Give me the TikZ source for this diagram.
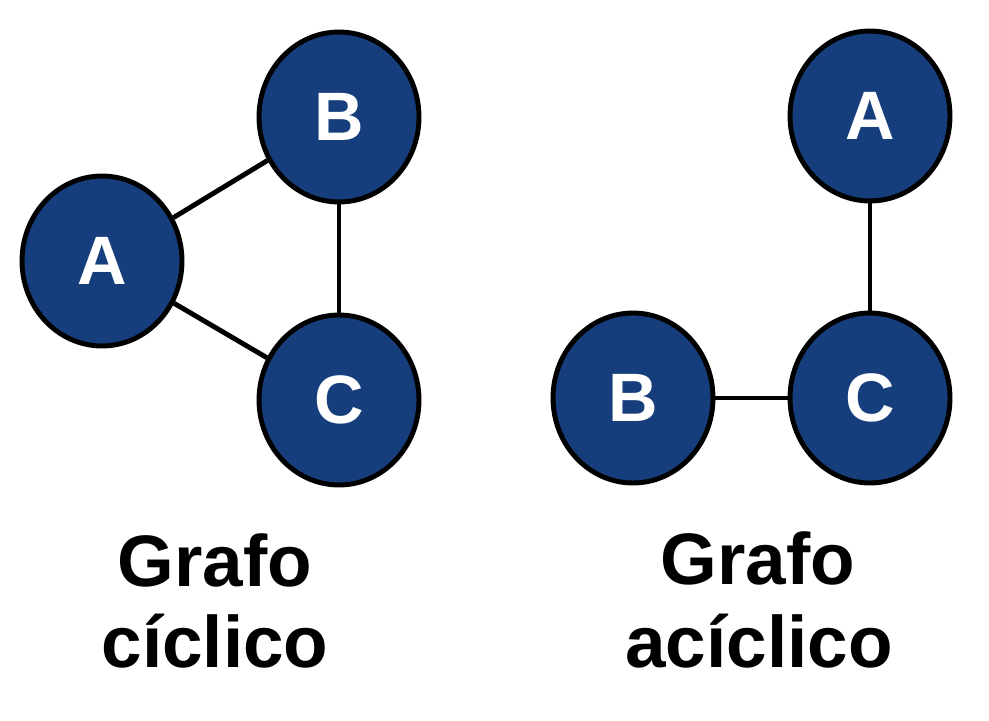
\documentclass[tikz,border=0pt]{standalone}
\usepackage{fontspec}
\setmainfont{Liberation Sans}
\usetikzlibrary{shapes.geometric}
\definecolor{nodoazul}{RGB}{22,62,124}
\tikzset{nodo/.style={ellipse, draw=black, line width=2.8pt, fill=nodoazul,
					minimum width=3.2cm, minimum height=3.4cm, inner sep=0pt,
					text=white, font=\fontsize{39}{41}\selectfont\bfseries},
		arista/.style={line width=2.8pt},
		titulo/.style={anchor=base, inner sep=0pt, font=\fontsize{41.5}{46}\selectfont\bfseries}}

\begin{document}
\begin{tikzpicture}[x=0.02cm, y=-0.02cm]

					\useasboundingbox (0,0) rectangle (989,720);

					% grafo ciclico
					\node[nodo] (cA) at (102,261) {A};
					\node[nodo] (cB) at (339,117) {B};
					\node[nodo] (cC) at (339,400) {C};
					\draw[arista] (cA) -- (cB);
					\draw[arista] (cB) -- (cC);
					\draw[arista] (cA) -- (cC);

					% grafo aciclico
					\node[nodo] (aA) at (870,116) {A};
					\node[nodo] (aB) at (633,398) {B};
					\node[nodo] (aC) at (870,398) {C};
					\draw[arista] (aA) -- (aC);
					\draw[arista] (aB) -- (aC);

					\node[titulo] (tc1) at (215,586) {Grafo};
					\node[titulo] (tc2) at (215,667) {cíclico};
					\node[titulo] (ta1) at (758,584) {Grafo};
					\node[titulo] (ta2) at (759,667) {acíclico};

				\end{tikzpicture}
\end{document}
